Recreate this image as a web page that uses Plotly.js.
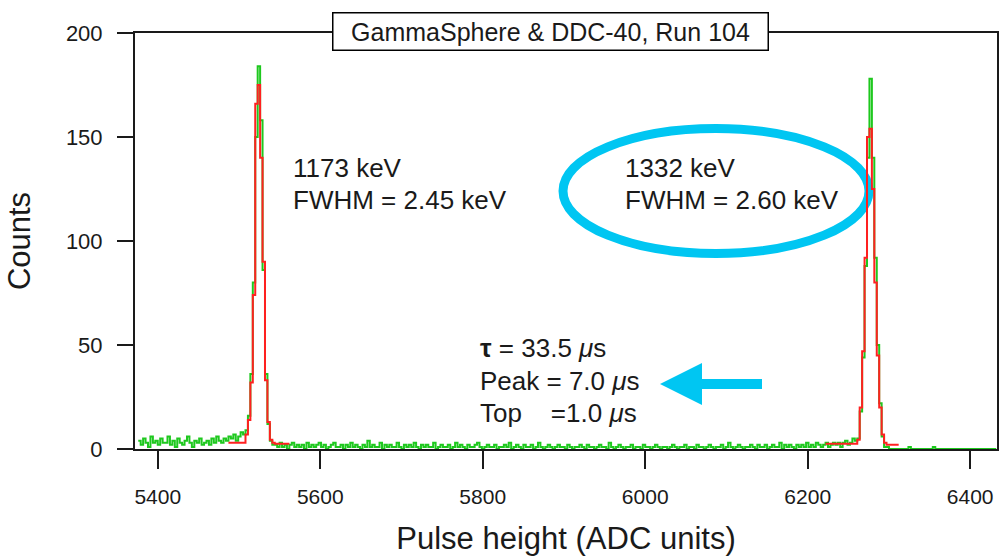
<!DOCTYPE html>
<html><head><meta charset="utf-8">
<script src="https://cdn.plot.ly/plotly-3.0.1.min.js"></script>
<style>html,body{margin:0;padding:0;background:#fff}#chart{width:1004px;height:556px}</style>
</head><body><div id="chart"></div>
<script>
// ---- data ----
const spectrumStart = 5376;   // ADC channel of first bin
const binWidth = 3;           // ADC channels per bin
const measuredCounts = [
  4,2,5,3,1,6,3,4,2,5, 3,3,6,2,4,1,5,3,2,4, 6,3,1,4,3,5,2,3,4,2, 5,3,6,4,3,5,4,6,5,7, 4,6,8,7,
  9,16,36,80,150,184,158,86,36,12,4,2,
  2,1,3,1,2,0,2,3,1,2, 1,2,0,3,1,2,1,2,3,1, 2,0,1,2,3,1,1,2,0,2, 1,3,1,2,1,0,2,1,4,1,
  2,1,1,3,0,2,1,2,1,1, 3,1,0,2,1,2,1,3,1,0, 2,1,2,1,1,3,0,1,2,1, 1,2,0,1,3,1,2,1,0,2,
  1,1,2,3,1,0,1,2,1,1, 2,0,1,1,2,1,3,0,1,2, 1,0,2,1,1,2,0,1,3,1, 0,1,2,1,0,1,2,1,1,0,
  2,1,0,1,1,2,1,0,2,1, 1,0,1,2,1,1,0,3,1,0, 1,2,1,0,1,1,2,0,1,1, 0,2,1,1,0,1,2,1,0,1,
  1,0,1,2,1,0,1,1,2,0, 1,1,0,2,1,1,0,1,2,1, 0,1,1,2,0,1,3,1,0,1, 2,1,0,1,1,2,1,0,2,1,
  1,2,0,1,2,1,1,3,0,2, 1,2,1,0,2,1,2,1,3,1, 2,1,3,2,1,2,3,1,2,3, 2,3,1,3,4,2,3,5,4,
  5,18,44,88,140,178,140,92,50,22,6,1,
  1,0,0,0,0,0,0,0,0,1, 0,0,0,0,0,0,0,0,0,1, 0,0,0,0,0,0,0,0,0,0, 0,0,0,0,0,0,0,0,0,0, 0,0,0,0,0,0
];
const fit1173Start = 5487;
const fit1173 = [3,3,3,3,3,3,3,7,14,32,74,166,175,140,90,33,13,4.5,3,2.5,2.5,2.5,2.5,2.5,2.5,2.5];
const fit1332Start = 6222;
const fit1332 = [2.5,2.5,2.5,2.5,2.5,2.5,2.5,2.5,2.5,2.5,2.5,2.5,2.5,4.5,20,47,92,150,154,125,80,45,20,7,3,2,2,2,2,2,2];
const xTickVals = [5400,5600,5800,6000,6200,6400];
const yTickVals = [0,50,100,150,200];
const titleText = 'GammaSphere &amp; DDC-40, Run 104';
const peak1Lines = ['1173 keV', 'FWHM = 2.45 keV'];
const peak2Lines = ['1332 keV', 'FWHM = 2.60 keV'];
const shaperLines = ['<b>\u03C4</b> = 33.5 <i>\u03BC</i>s', 'Peak = 7.0 <i>\u03BC</i>s', 'Top \u00a0\u00a0\u00a0=1.0 <i>\u03BC</i>s'];

// ---- layout helpers (pixel -> paper, for decorations only) ----
const L = 135, R = 997, T = 33, B = 449;
const px = x => (x - L) / (R - L);
const py = y => (B - y) / (B - T);

const sans = 'Liberation Sans, Arial, sans-serif';
const cyan = '#00c6f2';
const ink = '#1a1a1a';

const traces = [
  {type:'scatter', mode:'lines', x0:spectrumStart, dx:binWidth, y:measuredCounts,
   line:{color:'#1ec81e', width:2, shape:'hv'}, hoverinfo:'skip'},
  {type:'scatter', mode:'lines', x0:fit1173Start, dx:binWidth, y:fit1173,
   line:{color:'#ff2020', width:2, shape:'hv'}, hoverinfo:'skip'},
  {type:'scatter', mode:'lines', x0:fit1332Start, dx:binWidth, y:fit1332,
   line:{color:'#ff2020', width:2, shape:'hv'}, hoverinfo:'skip'}
];

const ann = [];
function txt(t, x, y, size){
  ann.push({text:t, xref:'paper', yref:'paper', x:px(x), y:py(y), xanchor:'left', yanchor:'middle',
            showarrow:false, font:{family:sans, size:size, color:ink}});
}
txt(peak1Lines[0], 291, 168, 26); txt(peak1Lines[1], 291, 200, 26);
txt(peak2Lines[0], 623, 168, 26); txt(peak2Lines[1], 623, 200, 26);
txt(shaperLines[0], 478, 348, 26); txt(shaperLines[1], 478, 381, 26); txt(shaperLines[2], 478, 413, 26);
ann.push({text:titleText, xref:'paper', yref:'paper', x:px(550), y:py(31), xanchor:'center', yanchor:'middle',
  showarrow:false, bgcolor:'#fff', bordercolor:'#000', borderwidth:1.5, borderpad:0, width:434, height:36,
  font:{family:sans, size:25, color:ink}});

const layout = {
  width:1004, height:556,
  margin:{l:L, r:1004-R, t:T, b:556-B},
  paper_bgcolor:'#fff', plot_bgcolor:'#fff',
  showlegend:false,
  xaxis:{range:[5372,6433], tickvals:xTickVals, ticks:'outside', ticklen:18, tickwidth:2, tickcolor:ink,
         showline:true, linecolor:ink, linewidth:2, mirror:true, showgrid:false, zeroline:false,
         ticklabelstandoff:10, tickfont:{family:sans, size:21, color:ink},
         title:{text:'Pulse height (ADC units)', font:{family:sans, size:31, color:ink}, standoff:20}},
  yaxis:{range:[0,200], tickvals:yTickVals, ticks:'outside', ticklen:16, tickwidth:2, tickcolor:ink,
         showline:true, linecolor:ink, linewidth:2, mirror:true, showgrid:false, zeroline:false,
         ticklabelstandoff:10, tickfont:{family:sans, size:22, color:ink},
         title:{text:'Counts', font:{family:sans, size:31, color:ink}, standoff:26}},
  annotations: ann,
  shapes:[
    {type:'circle', xref:'paper', yref:'paper', x0:px(563), x1:px(869), y0:py(253.5), y1:py(128.5),
     line:{color:cyan, width:9}, layer:'below'},
    {type:'path', xref:'paper', yref:'paper', fillcolor:cyan, line:{width:0},
     path:`M ${px(660)},${py(384)} L ${px(702)},${py(363)} L ${px(702)},${py(379)} L ${px(762)},${py(379)} L ${px(762)},${py(389)} L ${px(702)},${py(389)} L ${px(702)},${py(405)} Z`}
  ]
};
Plotly.newPlot('chart', traces, layout, {displayModeBar:false, staticPlot:true});
</script></body></html>
